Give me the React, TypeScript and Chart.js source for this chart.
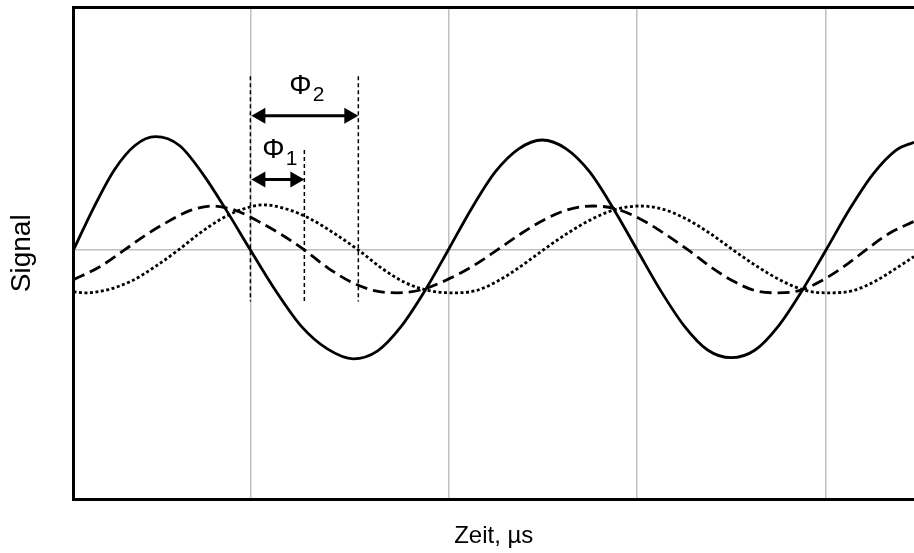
import React, { useEffect, useRef } from "react";
import { Chart, registerables } from "chart.js";

Chart.register(...registerables);

const FONT = "'Liberation Sans', Arial, sans-serif";

// Axis ranges and vertical grid positions (time in arbitrary units)
const timeMin = 0;
const timeMax = 84.1;
const signalMin = -2.27;
const signalMax = 2.21;
const gridTimes = [17.7, 37.5, 56.4, 75.3];

// Reference signal (solid)
const refTime = [0, 2.05, 4.1, 6.15, 8.2, 10.6, 12.95, 15.3, 17.7, 20.3, 22.85, 25.4, 28.0, 30.4, 32.75, 35.1, 37.5, 39.85, 42.2, 44.55, 46.9, 49.3, 51.65, 54.0, 56.4, 58.75, 61.1, 63.45, 65.8, 68.2, 70.55, 72.9, 75.3, 77.65, 80.0, 82.35, 84.1];
const refSignal = [0, 0.39, 0.73, 0.95, 1.03, 0.95, 0.69, 0.36, 0, -0.38, -0.7, -0.9, -0.99, -0.92, -0.7, -0.38, 0, 0.38, 0.71, 0.92, 1.0, 0.92, 0.71, 0.38, 0, -0.37, -0.69, -0.91, -0.98, -0.91, -0.69, -0.37, 0, 0.37, 0.69, 0.91, 0.98];

// First delayed response (dashed), phase Φ1
const delay1Time = [0, 2.5, 5.1, 7.3, 9.5, 11.7, 13.9, 16.2, 18.5, 20.8, 23.1, 25.4, 27.75, 30.1, 32.4, 34.9, 37.4, 39.9, 42.4, 44.8, 47.2, 49.6, 52.0, 54.4, 56.75, 59.1, 61.5, 63.7, 65.95, 68.2, 70.4, 72.6, 74.85, 77.1, 79.3, 81.6, 84.1];
const delay1Signal = [-0.27, -0.16, 0, 0.14, 0.26, 0.36, 0.4, 0.36, 0.26, 0.14, 0, -0.16, -0.29, -0.37, -0.39, -0.36, -0.27, -0.15, 0, 0.15, 0.28, 0.37, 0.4, 0.37, 0.28, 0.15, 0, -0.15, -0.28, -0.37, -0.39, -0.37, -0.28, -0.15, 0, 0.15, 0.26];

// Second delayed response (dotted), phase Φ2
const delay2Time = [0, 1.2, 3.5, 5.85, 8.2, 10.5, 12.6, 14.75, 16.9, 19.0, 21.4, 23.75, 26.1, 28.5, 30.9, 33.25, 35.6, 38.0, 40.25, 42.5, 44.75, 47.0, 49.4, 51.85, 54.3, 56.7, 59.0, 61.35, 63.7, 66.0, 68.4, 70.85, 73.3, 75.7, 78.0, 80.3, 82.6, 84.1];
const delay2Signal = [-0.38, -0.39, -0.36, -0.28, -0.15, 0, 0.15, 0.28, 0.37, 0.41, 0.37, 0.28, 0.15, 0, -0.17, -0.3, -0.37, -0.39, -0.37, -0.28, -0.15, 0, 0.15, 0.28, 0.37, 0.4, 0.37, 0.28, 0.15, 0, -0.15, -0.28, -0.37, -0.39, -0.37, -0.28, -0.15, -0.06];

// Phase-shift annotations: common origin (reference zero crossing) and the delayed zero crossings
const phaseOrigin = 17.7;
const phaseEnds = [23.1, 28.5];
const phaseArrowLevels = [0.64, 1.22];
const guideTops = [0.91, 1.58];
const guideBottom = -0.47;
const phaseSubscripts = ["1", "2"];

const points = (xs: number[], ys: number[]) => xs.map((x, i) => ({ x, y: ys[i] }));

function drawArrowHead(ctx: CanvasRenderingContext2D, tipX: number, y: number, dir: number) {
  const len = 14;
  const half = 8;
  ctx.beginPath();
  ctx.moveTo(tipX, y);
  ctx.lineTo(tipX + dir * len, y - half);
  ctx.lineTo(tipX + dir * len, y + half);
  ctx.closePath();
  ctx.fill();
}

const phaseMarkerPlugin = {
  id: "phaseMarkers",
  afterDatasetsDraw(chart: any) {
    const { ctx, scales } = chart;
    const xs = scales.x;
    const ys = scales.y;
    const x0 = xs.getPixelForValue(phaseOrigin);
    const yBottom = ys.getPixelForValue(guideBottom);

    ctx.save();
    ctx.strokeStyle = "#000";
    ctx.fillStyle = "#000";

    // dashed guide lines
    ctx.lineWidth = 1.5;
    ctx.setLineDash([4, 3]);
    const originTop = ys.getPixelForValue(Math.max(...guideTops));
    ctx.beginPath();
    ctx.moveTo(x0, originTop);
    ctx.lineTo(x0, yBottom);
    phaseEnds.forEach((t, i) => {
      const px = xs.getPixelForValue(t);
      ctx.moveTo(px, ys.getPixelForValue(guideTops[i]));
      ctx.lineTo(px, yBottom);
    });
    ctx.stroke();
    ctx.setLineDash([]);

    // double arrows with labels
    phaseEnds.forEach((t, i) => {
      const x1 = xs.getPixelForValue(t);
      const yA = ys.getPixelForValue(phaseArrowLevels[i]);
      ctx.lineWidth = 3;
      ctx.beginPath();
      ctx.moveTo(x0 + 10, yA);
      ctx.lineTo(x1 - 10, yA);
      ctx.stroke();
      drawArrowHead(ctx, x0 + 1, yA, 1);
      drawArrowHead(ctx, x1, yA, -1);

      const mainFont = `28px ${FONT}`;
      const subFont = `21px ${FONT}`;
      ctx.font = mainFont;
      const wMain = ctx.measureText("Φ").width;
      ctx.font = subFont;
      const wSub = ctx.measureText(phaseSubscripts[i]).width;
      const left = (x0 + x1) / 2 + 2.5 - (wMain + wSub + 1) / 2;
      const base = yA - 22;
      ctx.textBaseline = "alphabetic";
      ctx.textAlign = "left";
      ctx.font = mainFont;
      ctx.fillText("Φ", left, base);
      ctx.font = subFont;
      ctx.fillText(phaseSubscripts[i], left + wMain + 1, base + 7.5);
    });
    ctx.restore();
  },
};

export default function App() {
  const canvasRef = useRef<HTMLCanvasElement | null>(null);

  useEffect(() => {
    const canvas = canvasRef.current;
    if (!canvas) return;
    const line = { borderColor: "#000", borderWidth: 2.8, pointRadius: 0, fill: false, cubicInterpolationMode: "monotone" as const };
    const chart = new Chart(canvas, {
      type: "line",
      data: {
        datasets: [
          { ...line, data: points(refTime, refSignal) },
          { ...line, data: points(delay1Time, delay1Signal), borderDash: [12, 6] },
          { ...line, data: points(delay2Time, delay2Signal), borderDash: [3, 2.5] },
        ],
      },
      options: {
        animation: false,
        responsive: false,
        devicePixelRatio: 1,
        layout: { padding: { top: 7, right: 0, bottom: 0, left: 0 } },
        plugins: { legend: { display: false }, tooltip: { enabled: false } },
        scales: {
          x: {
            type: "linear",
            position: "bottom",
            min: timeMin,
            max: timeMax,
            afterBuildTicks: (scale: any) => {
              scale.ticks = gridTimes.map((value) => ({ value }));
            },
            ticks: { display: false },
            grid: { color: "#c0c0c0", lineWidth: 1.5, drawTicks: false },
            border: { display: true, color: "#000", width: 3 },
            title: {
              display: true,
              text: "Zeit, µs",
              color: "#000",
              font: { family: FONT, size: 24 },
              padding: { top: 22.1, bottom: 2.6 },
            },
          },
          xTop: {
            type: "linear",
            axis: "x",
            position: "top",
            min: timeMin,
            max: timeMax,
            ticks: { display: false },
            grid: { display: false, drawTicks: false },
            border: { display: true, color: "#000", width: 3 },
          },
          y: {
            type: "linear",
            min: signalMin,
            max: signalMax,
            afterBuildTicks: (scale: any) => {
              scale.ticks = [{ value: 0 }];
            },
            ticks: { display: false },
            grid: { color: "#c0c0c0", lineWidth: 1.5, drawTicks: false },
            border: { display: true, color: "#000", width: 3 },
            title: {
              display: true,
              text: "Signal",
              color: "#000",
              font: { family: FONT, size: 28 },
              padding: { top: 5.5, bottom: 34.4 },
            },
          },
        },
      },
      plugins: [phaseMarkerPlugin],
    });
    return () => chart.destroy();
  }, []);

  return (
    <div style={{ position: "fixed", left: 0, top: 0, width: 914, height: 553, background: "#fff" }}>
      <canvas ref={canvasRef} width={914} height={553} style={{ display: "block" }} />
    </div>
  );
}
